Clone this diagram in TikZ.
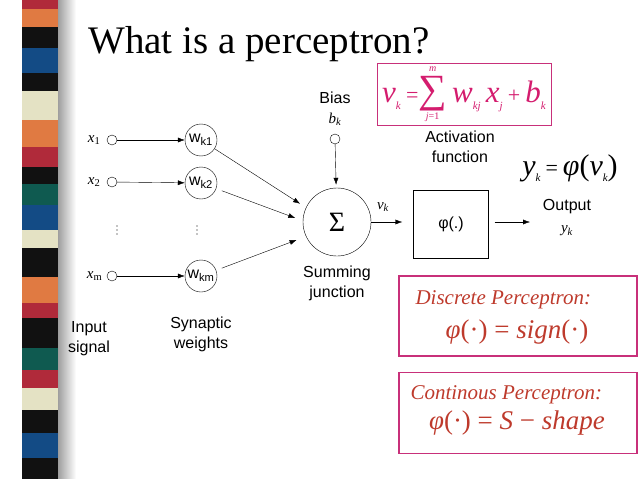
\documentclass[tikz,border=0pt]{standalone}
\usepackage{fontspec}
\setmainfont{Liberation Serif}
\setsansfont{Liberation Sans}
\usetikzlibrary{positioning,arrows.meta}

\definecolor{stred}{HTML}{B02A3A}
\definecolor{storange}{HTML}{E07A42}
\definecolor{stblack}{HTML}{111111}
\definecolor{stblue}{HTML}{134B85}
\definecolor{stcream}{HTML}{E4E2C4}
\definecolor{stteal}{HTML}{0F5A50}
\definecolor{boxpink}{HTML}{C8307A}
\definecolor{formpink}{HTML}{D41C6E}
\definecolor{rusty}{HTML}{BE3A2C}

% tiny low subscript for the big formulas
\newcommand{\lowsub}[1]{\raisebox{-0.22em}{\fontsize{11}{11}\selectfont #1}}
\newcommand{\sumjm}{$\mathop{\hbox{\fontsize{40}{40}\selectfont\upshape ∑}}%
  \limits_{\hbox{\fontsize{10}{10}\selectfont\raisebox{-2pt}{j\upshape =1}}}%
  ^{\hbox{\fontsize{10}{10}\selectfont\raisebox{3pt}{m}}}$}

\begin{document}
\begin{tikzpicture}
[x=1pt, y=-1pt, >={Latex[length=7pt,width=5pt]},
  port/.style={circle, draw, inner sep=0pt, minimum size=10pt},
  weight/.style={circle, draw, inner sep=0pt, minimum size=32pt,
    font=\sffamily\fontsize{16}{16}\selectfont},
  lbl/.style={align=center, font=\sffamily\fontsize{16}{20}\selectfont},
  sig/.style={font=\fontsize{15}{15}\selectfont},
  pinkbox/.style={draw=boxpink, line width=1.2pt},
  rule/.style={text=rusty, font=\itshape\fontsize{27}{27}\selectfont}]
  \useasboundingbox (0,0) rectangle (638,479);
  % slide stripe
  \shade[left color=black!40, right color=white] (57,0) rectangle (76,479);
  \foreach \ya/\yb/\col in {0/9/stred, 9/27/storange, 27/48/stblack,
      48/73/stblue, 73/91/stblack, 91/120/stcream, 120/147/storange,
      147/167/stred, 167/184/stblack, 184/205/stteal, 205/230/stblue,
      230/248/stcream, 248/277/stblack, 277/303/storange, 303/318/stred,
      318/348/stblack, 348/370/stteal, 370/388/stred, 388/410/stcream,
      410/433/stblack, 433/458/stblue, 458/479/stblack}
    \fill[\col] (22,\ya) rectangle (58,\yb);

  \node[anchor=base west, inner sep=0pt, font=\fontsize{39}{39}\selectfont]
    (title) at (88,53) {What is a perceptron?};

  % inputs and weights
  \node[port] (x1) at (112,140) {};
  \node[port] (x2) at (112,182) {};
  \node[port] (xm) at (112,276) {};
  \node[sig, left=3pt of x1] (x1l) {\textit{x}\textsubscript{1}};
  \node[sig, left=3pt of x2] (x2l) {\textit{x}\textsubscript{2}};
  \node[sig, left=1pt of xm] (xml) {\textit{x}\textsubscript{m}};
  \node[weight] (w1) at (201,140) {w\textsubscript{k1}};
  \node[weight] (w2) at (201,183) {w\textsubscript{k2}};
  \node[weight] (wm) at (201,276) {w\textsubscript{km}};
  \foreach \xd in {117,197}
    \foreach \yd in {226,230,234}
      \fill (\xd,\yd) circle (0.6pt);

  % summing junction and activation
  \node[circle, draw, inner sep=0pt, minimum size=68pt,
    font=\fontsize{28}{28}\selectfont] (sum) at (337,222) {Σ};
  \node[port] (bias) at (335,139) {};
  \node[sig] (bk) at (335,119) {\textit{b}\textsubscript{\textit{k}}};
  \node[lbl] (biasl) at (335,98) {Bias};
  \node[draw, minimum width=75pt, minimum height=68pt,
    font=\sffamily\fontsize{16}{16}\selectfont] (phi) at (451,224) {φ(.)};
  \coordinate (out) at (530,222);

  \draw[->] (x1) -- (w1);
  \draw[->] (x2) -- (w2);
  \draw[->] (xm) -- (wm);
  \draw[->, shorten >=7pt] (w1) -- (sum.155);
  \draw[->, shorten <=6pt, shorten >=8pt] (w2) -- (sum.178);
  \draw[->, shorten <=6pt, shorten >=10pt] (wm) -- (sum.205);
  \draw[->, shorten >=3pt] (bias) -- (sum);
  \draw[->, shorten >=11pt] (sum.east) -- (sum.east -| phi.west);
  \draw[->, shorten <=6pt] (sum.east -| phi.east) -- (out);

  \node[sig] (vk) at (383,207) {\textit{v}\textsubscript{\textit{k}}};
  \node[lbl] (outl) at (567,207) {Output};
  \node[sig] (yk) at (567,231) {\textit{y}\textsubscript{\textit{k}}};
  \node[lbl] (inl) at (89,339) {Input\\signal};
  \node[lbl] (synl) at (201,334) {Synaptic\\weights};
  \node[lbl] (suml) at (337,283) {Summing\\junction};
  \node[lbl] (actl) at (460,147) {Activation\\function};

  % formulas
  \node[pinkbox, line width=1pt, minimum width=174pt, minimum height=62pt,
    inner sep=0pt, text=formpink, font=\itshape\fontsize{31}{31}\selectfont]
    (vkbox) at (464,94)
    {v\lowsub{k}\,{\upshape\fontsize{22}{22}\selectfont =}\sumjm\,w\lowsub{kj}\,x\lowsub{j}\,{\upshape\fontsize{22}{22}\selectfont +}\,b\lowsub{k}};
  \node[font=\itshape\fontsize{30}{30}\selectfont] (ykeq) at (570,168)
    {y\lowsub{k}\,{\upshape\fontsize{22}{22}\selectfont =}\,φ{\upshape(}v\lowsub{k}{\upshape)}};

  \node[pinkbox, minimum width=238pt, minimum height=80pt] (dbox) at (518,316) {};
  \node[anchor=west, text=rusty, font=\itshape\fontsize{21}{21}\selectfont]
    (dtext) at (412,300) {Discrete Perceptron:};
  \node[rule] (deq) at (517,332) {φ{\upshape(·)} {\upshape =} sign{\upshape(·)}};
  \node[pinkbox, minimum width=238pt, minimum height=81pt] (cbox) at (518,413) {};
  \node[anchor=west, text=rusty, font=\itshape\fontsize{21}{21}\selectfont]
    (ctext) at (407,395) {Continous Perceptron:};
  \node[rule] (ceq) at (517,423) {φ{\upshape(·)} {\upshape =} S {\upshape −} shape};
\end{tikzpicture}
\end{document}
